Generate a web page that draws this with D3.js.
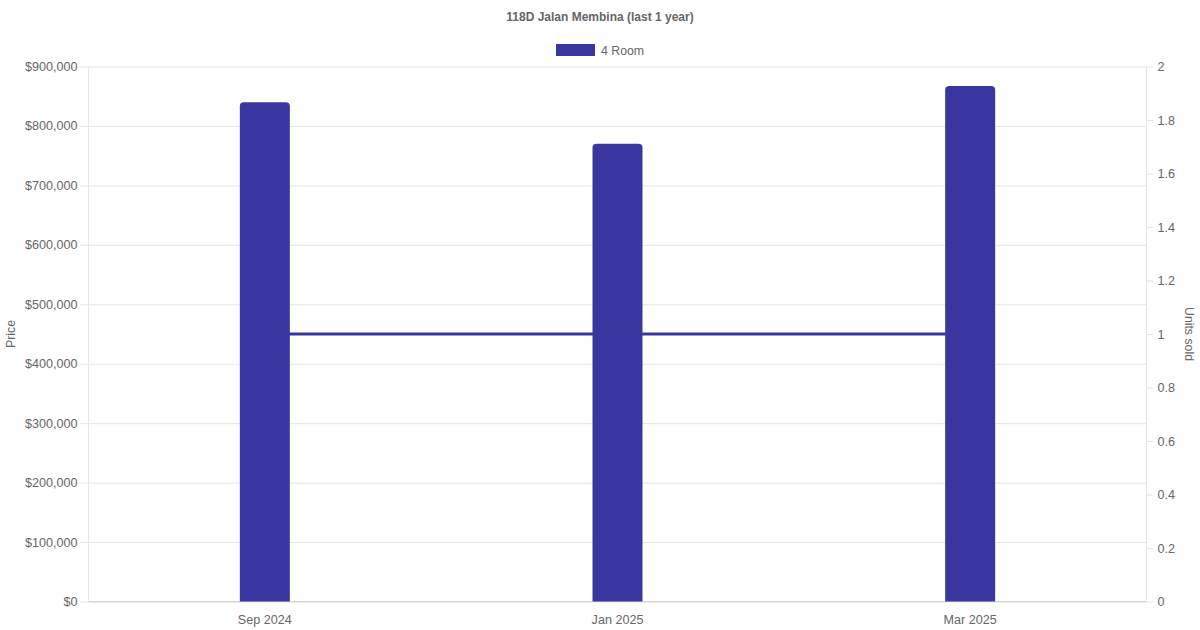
<!DOCTYPE html>
<html>
<head>
<meta charset="utf-8">
<script src="https://cdn.jsdelivr.net/npm/d3@7"></script>
<style>
  body { margin: 0; background: #fff; }
  text { font-family: "Liberation Sans", Arial, Helvetica, sans-serif; fill: #666; }
</style>
</head>
<body>
<div id="chart"></div>
<script>
// Data
var months = ["Sep 2024", "Jan 2025", "Mar 2025"];
var prices = [840000, 770000, 867000];
var unitsSold = [1, 1, 1];
var priceTicks = [0, 100000, 200000, 300000, 400000, 500000, 600000, 700000, 800000, 900000];
var unitTicks = [0, 0.2, 0.4, 0.6, 0.8, 1, 1.2, 1.4, 1.6, 1.8, 2];
var seriesName = "4 Room";

var width = 1200;
var height = 630;
var plotLeft = 88.5;
var plotRight = 1146.5;
var plotTop = 66.5;
var plotBottom = 601.5;
var barColor = "#3a36a0";
var gridColor = "#e5e5e5";
var tickFont = 12.6;

var svg = d3.select("#chart")
  .append("svg")
  .attr("width", width)
  .attr("height", height);

var x = d3.scaleBand().domain(months).range([plotLeft, plotRight]);
var yPrice = d3.scaleLinear().domain([0, 900000]).range([plotBottom, plotTop]);
var yUnits = d3.scaleLinear().domain([0, 2]).range([plotBottom, plotTop]);

// Title
svg.append("text")
  .attr("x", width / 2)
  .attr("y", 21)
  .attr("text-anchor", "middle")
  .attr("font-size", 12)
  .attr("font-weight", "bold")
  .text("118D Jalan Membina (last 1 year)");

// Legend
svg.append("rect")
  .attr("x", 556).attr("y", 44)
  .attr("width", 39).attr("height", 12)
  .attr("fill", barColor);
svg.append("text")
  .attr("x", 601).attr("y", 54.5)
  .attr("font-size", 12.3)
  .text(seriesName);

// Left axis with grid
var leftAxis = svg.append("g")
  .attr("transform", "translate(" + plotLeft + ",0)")
  .call(d3.axisLeft(yPrice)
    .tickValues(priceTicks)
    .tickSize(-(plotRight - plotLeft))
    .tickPadding(11)
    .tickFormat(function(d) { return "$" + d3.format(",")(d); }));
leftAxis.select(".domain").remove();
leftAxis.selectAll("line").attr("stroke", gridColor).attr("x1", -8);
leftAxis.selectAll("text").attr("font-size", tickFont);

// Right axis
var rightAxis = svg.append("g")
  .attr("transform", "translate(" + plotRight + ",0)")
  .call(d3.axisRight(yUnits)
    .tickValues(unitTicks)
    .tickSize(7)
    .tickPadding(4)
    .tickFormat(d3.format("")));
rightAxis.select(".domain").remove();
rightAxis.selectAll("line").attr("stroke", gridColor);
rightAxis.selectAll("text").attr("font-size", tickFont);

// Axis border lines
svg.append("line")
  .attr("x1", plotLeft).attr("x2", plotLeft)
  .attr("y1", plotTop).attr("y2", plotBottom)
  .attr("stroke", gridColor);
svg.append("line")
  .attr("x1", plotRight).attr("x2", plotRight)
  .attr("y1", plotTop).attr("y2", plotBottom)
  .attr("stroke", gridColor);
svg.append("line")
  .attr("x1", plotLeft).attr("x2", plotRight)
  .attr("y1", plotBottom).attr("y2", plotBottom)
  .attr("stroke", "#d0d0d0");

// X labels
svg.selectAll(".xLabel")
  .data(months)
  .enter()
  .append("text")
  .attr("class", "xLabel")
  .attr("x", function(d) { return x(d) + x.bandwidth() / 2; })
  .attr("y", 624)
  .attr("text-anchor", "middle")
  .attr("font-size", tickFont)
  .text(function(d) { return d; });

// Axis titles
svg.append("text")
  .attr("transform", "translate(15," + ((plotTop + plotBottom) / 2) + ")rotate(-90)")
  .attr("text-anchor", "middle")
  .attr("font-size", 12.3)
  .text("Price");
svg.append("text")
  .attr("transform", "translate(1185," + ((plotTop + plotBottom) / 2) + ")rotate(90)")
  .attr("text-anchor", "middle")
  .attr("font-size", 12.3)
  .text("Units sold");

// Units sold line
var line = d3.line()
  .x(function(d, i) { return x(months[i]) + x.bandwidth() / 2; })
  .y(function(d) { return yUnits(d); });
svg.append("path")
  .datum(unitsSold)
  .attr("d", line)
  .attr("fill", "none")
  .attr("stroke", barColor)
  .attr("stroke-width", 3);

// Bars with rounded tops
var barW = 50;
var r = 4;
function barPath(cx, yTop, yBot) {
  var x0 = cx - barW / 2, x1 = cx + barW / 2;
  return "M" + x0 + "," + yBot +
    "V" + (yTop + r) +
    "Q" + x0 + "," + yTop + " " + (x0 + r) + "," + yTop +
    "H" + (x1 - r) +
    "Q" + x1 + "," + yTop + " " + x1 + "," + (yTop + r) +
    "V" + yBot + "Z";
}
svg.selectAll(".bar")
  .data(prices)
  .enter()
  .append("path")
  .attr("class", "bar")
  .attr("d", function(d, i) {
    return barPath(x(months[i]) + x.bandwidth() / 2, yPrice(d), yPrice(0));
  })
  .attr("fill", barColor);
</script>
</body>
</html>
